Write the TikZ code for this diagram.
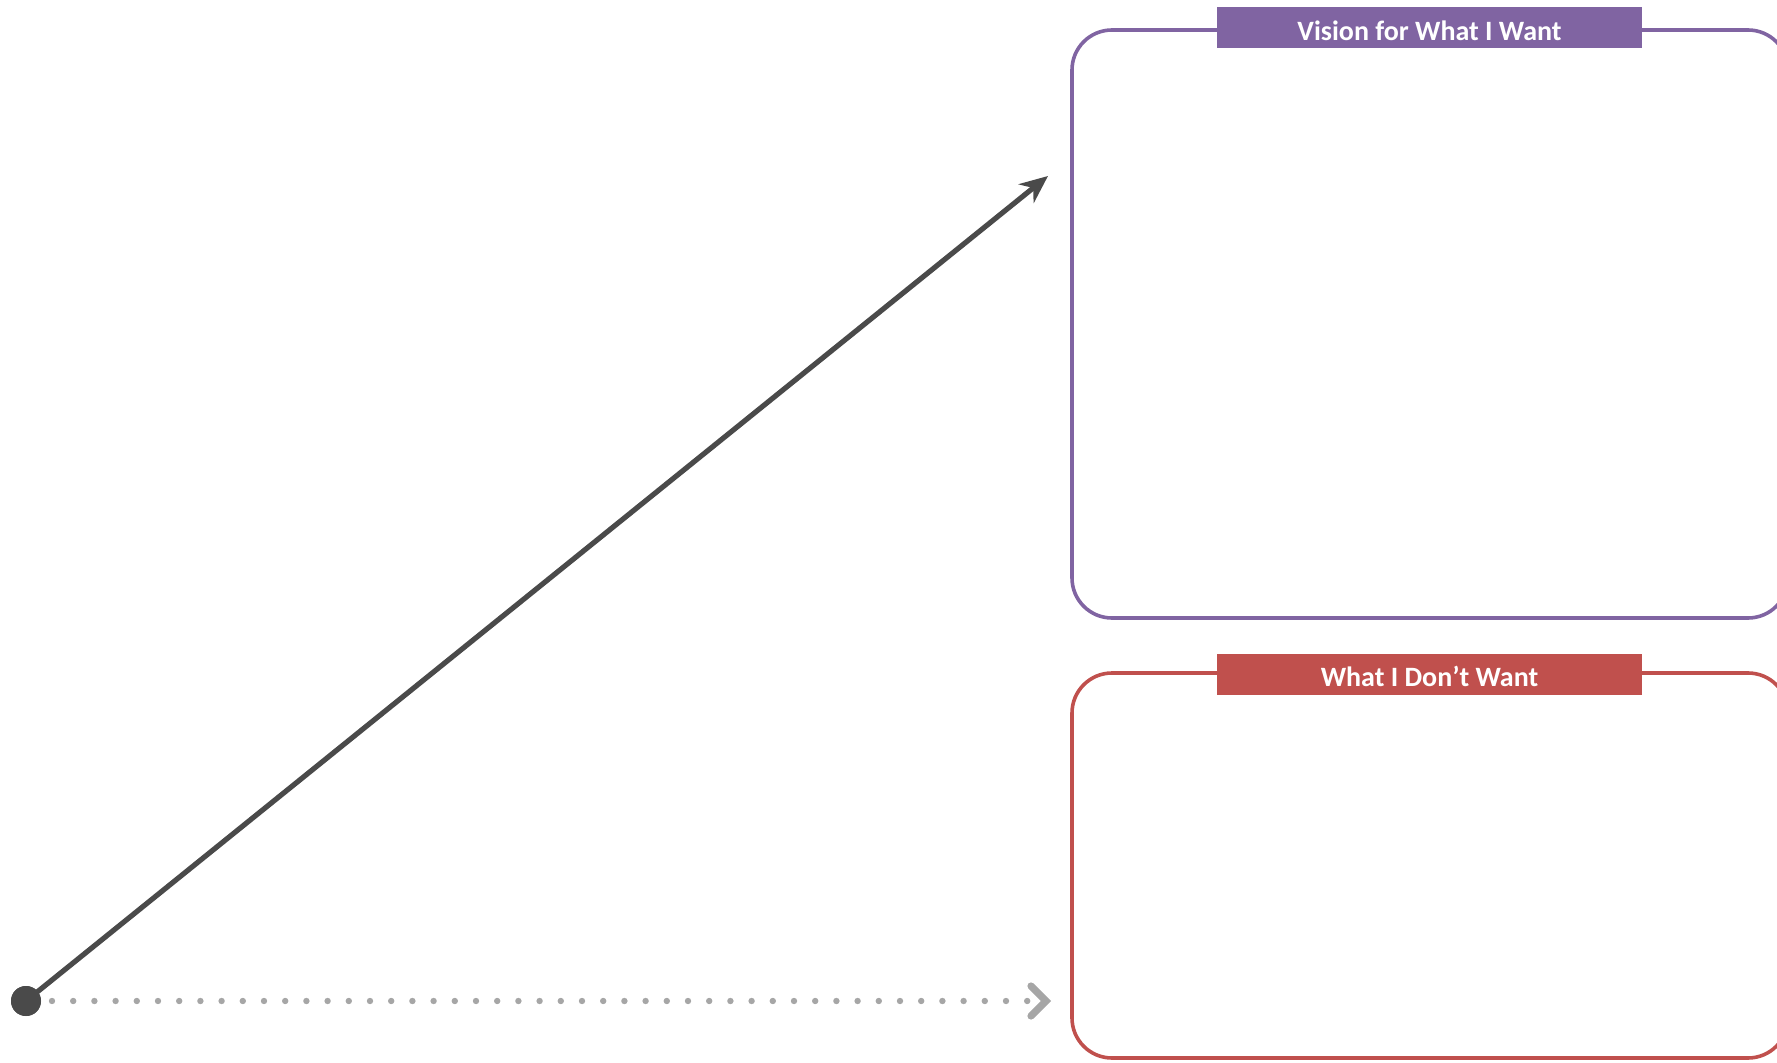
\documentclass[tikz,border=0pt]{standalone}
\usepackage{fontspec}
\setmainfont{Carlito}
\usetikzlibrary{arrows.meta}
\definecolor{vpurple}{HTML}{8064A2}
\definecolor{vred}{HTML}{C0504D}
\definecolor{adark}{HTML}{4A4A4A}
\definecolor{dotgray}{HTML}{A6A6A6}
\tikzset{
  panel/.style={line width=1.8pt, rounded corners=20pt},
  tag/.style={minimum width=212.5pt, minimum height=20.5pt, inner sep=0pt,
    text height=12.8pt, text depth=0pt,
    text=white, font=\bfseries\fontsize{14}{16}\selectfont},
  startdot/.style={circle, fill=adark, minimum size=15pt, inner sep=0pt},
  mainarrow/.style={draw=adark, line width=2.6pt,
    -{Stealth[length=14pt, width=12pt, inset=4.5pt]}},
  dotline/.style={draw=dotgray, line width=3.2pt, line cap=round,
    dash pattern=on 0pt off 10.6pt},
}
\begin{document}
\begin{tikzpicture}[x=0.5pt,y=-0.5pt]
\useasboundingbox (0,0) rectangle (1777,1063);
\clip (0,0) rectangle (1777,1063);
% panels
\draw[panel, draw=vpurple] (1072,30) rectangle (1788,618);
\draw[panel, draw=vred] (1072,673) rectangle (1788,1058);
\node[tag, fill=vpurple] (vision) at (1429.5,27.5) {Vision for What I Want};
\node[tag, fill=vred] (dont) at (1429.5,674) {What I Don’t Want};
% start and connectors
\node[startdot] (start) at (26,1001) {};
\coordinate (up) at (1048,176);
\coordinate (flatend) at (1030,1001);
\coordinate (chev) at (1046,1001);
\draw[mainarrow] (start.center) -- (up);
\draw[dotline] (start.center) ++(26,0) -- (flatend);
\draw[draw=dotgray, line width=3.6pt, line cap=round, line join=miter]
  ([shift={(-15,-15)}]chev) -- (chev) -- ([shift={(-15,15)}]chev);
\node[startdot] at (start) {};
\end{tikzpicture}
\end{document}
